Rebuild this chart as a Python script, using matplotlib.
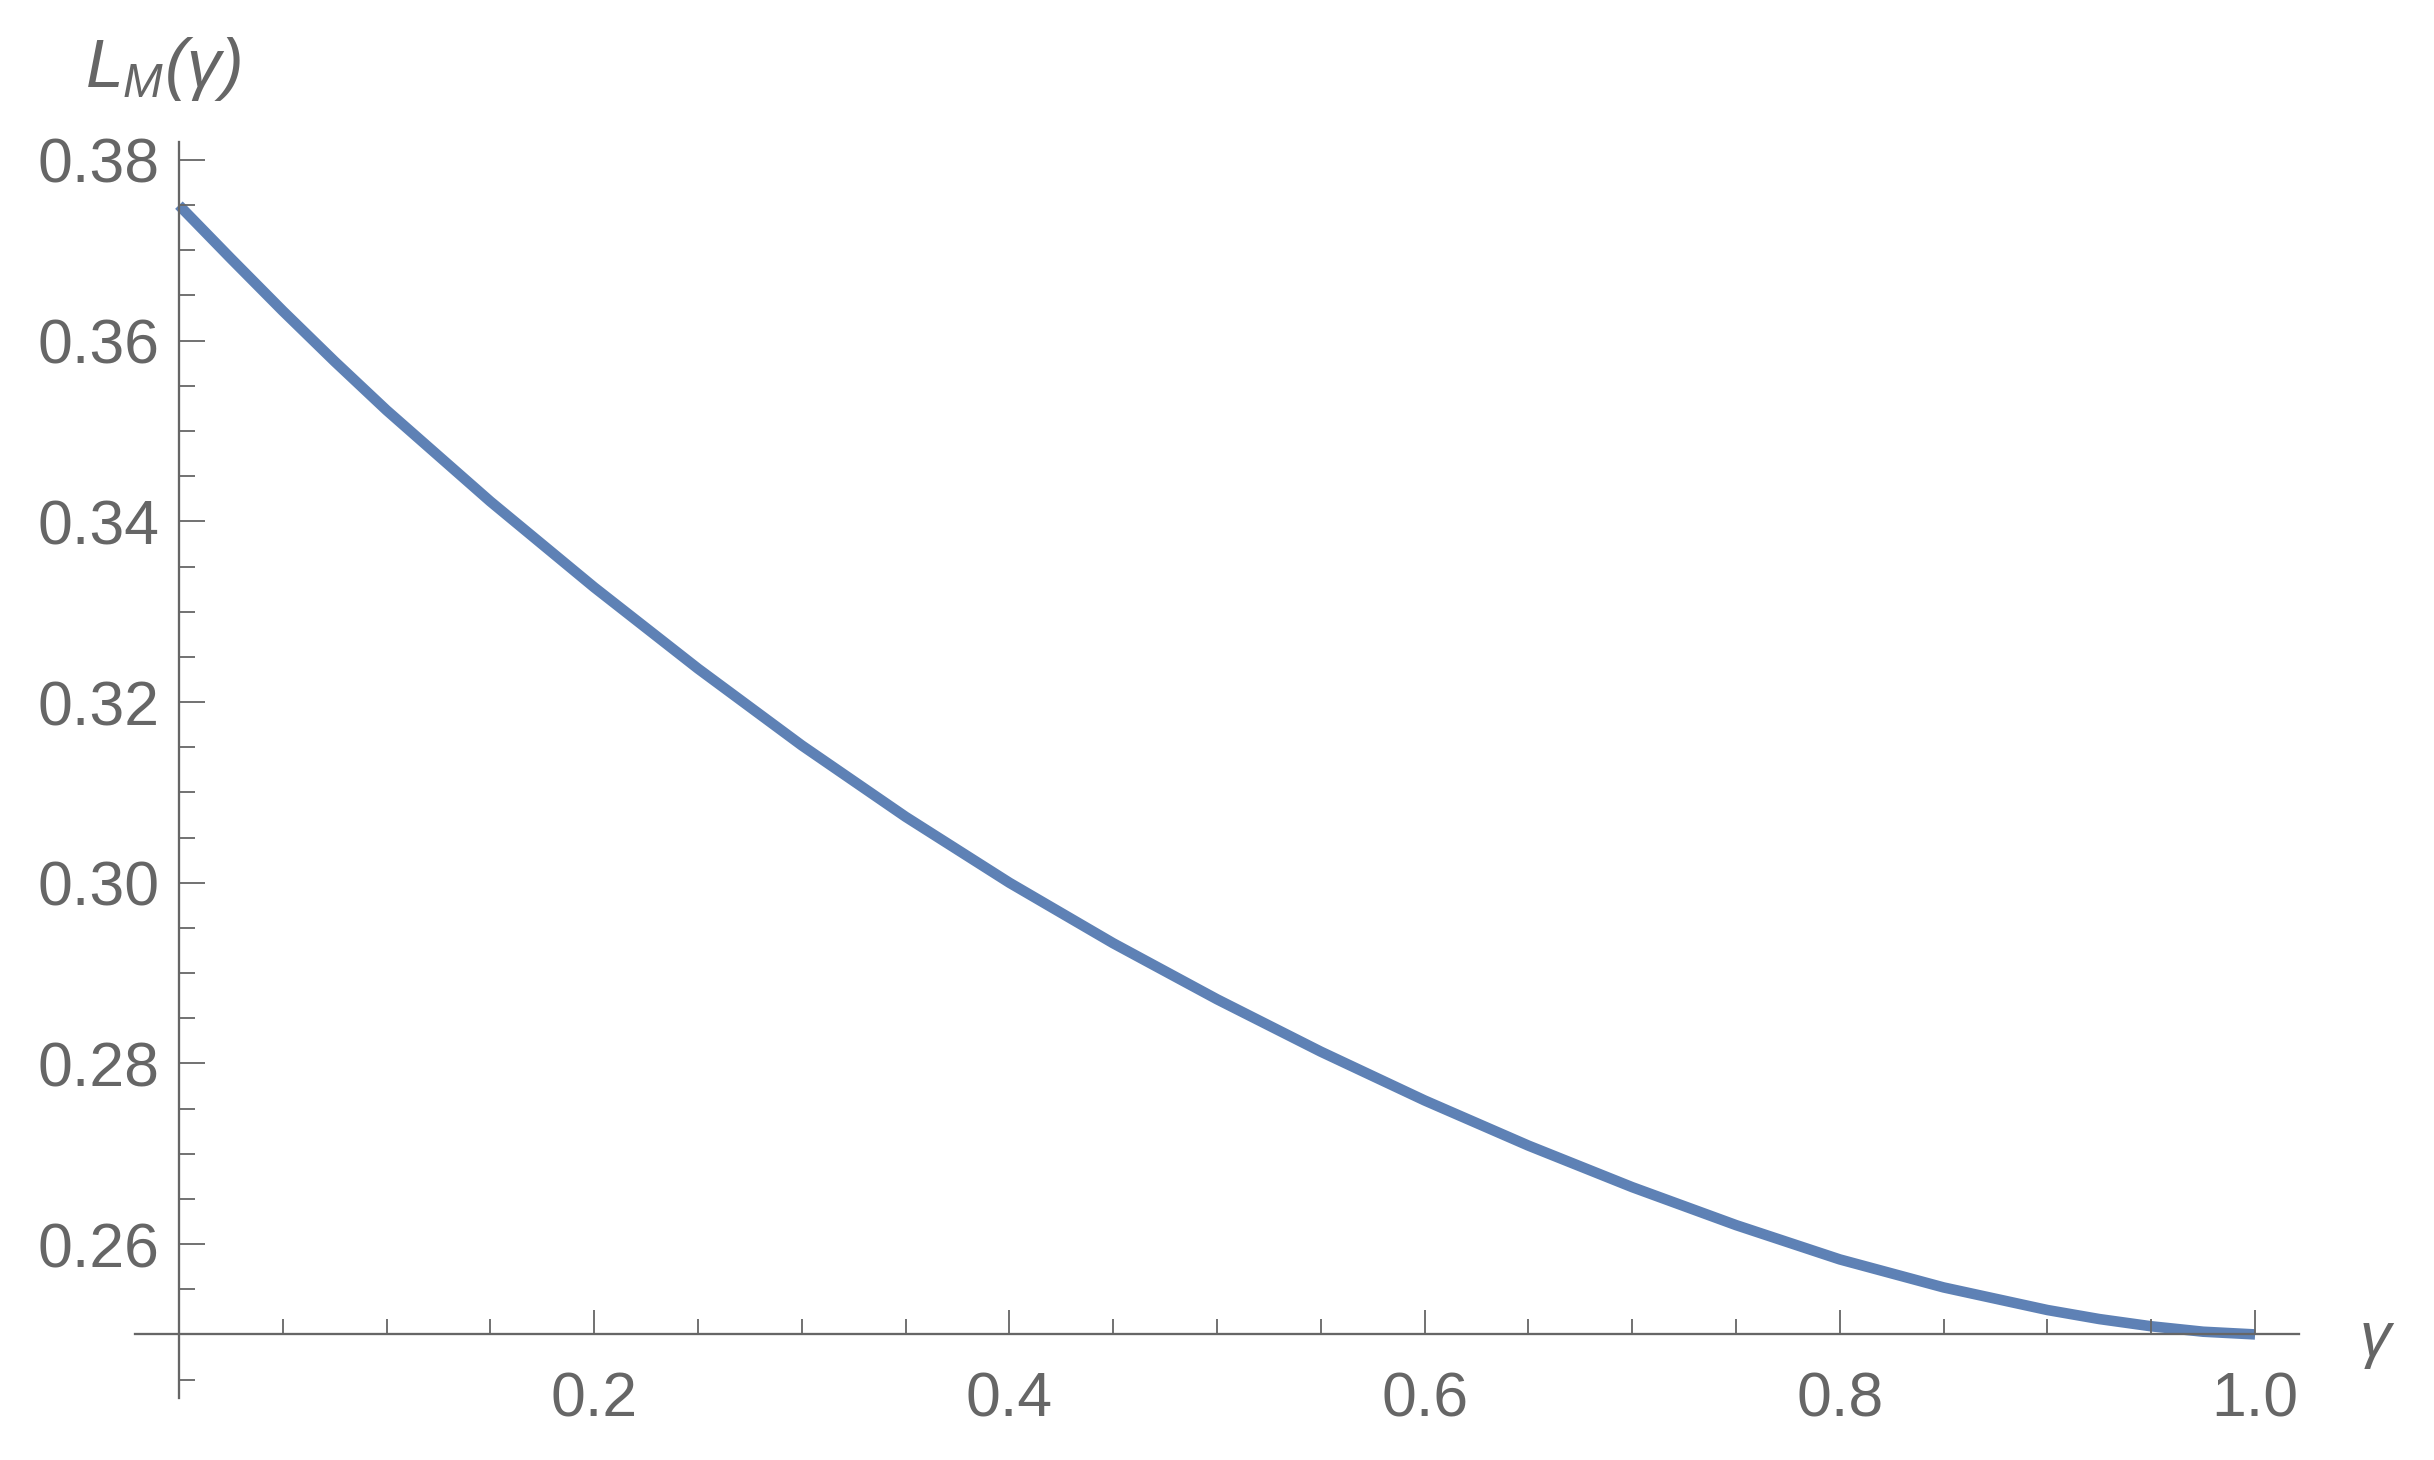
import matplotlib
matplotlib.use("Agg")
import matplotlib.pyplot as plt

# curve
gamma = [0.0, 0.025, 0.05, 0.075, 0.10, 0.15, 0.20, 0.25, 0.30, 0.35, 0.40,
         0.45, 0.50, 0.55, 0.60, 0.65, 0.70, 0.75, 0.80, 0.85, 0.90, 0.925,
         0.95, 0.975, 1.0]
L_M = [0.3750, 0.3691, 0.3633, 0.3577, 0.3523, 0.3422, 0.3327, 0.3237,
       0.3152, 0.3073, 0.3000, 0.2933, 0.2871, 0.2813, 0.2759, 0.2709,
       0.2663, 0.2621, 0.2583, 0.2552, 0.2527, 0.2517, 0.2509, 0.2503,
       0.2500]

x_major = [0.2, 0.4, 0.6, 0.8, 1.0]
x_major_labels = ["0.2", "0.4", "0.6", "0.8", "1.0"]
x_minor = [0.05, 0.10, 0.15, 0.25, 0.30, 0.35, 0.45, 0.50, 0.55, 0.65,
           0.70, 0.75, 0.85, 0.90, 0.95]
y_major = [0.26, 0.28, 0.30, 0.32, 0.34, 0.36, 0.38]
y_major_labels = ["0.26", "0.28", "0.30", "0.32", "0.34", "0.36", "0.38"]
y_minor = [0.245, 0.255, 0.265, 0.27, 0.275, 0.285, 0.29, 0.295, 0.305,
           0.31, 0.315, 0.325, 0.33, 0.335, 0.345, 0.35, 0.355, 0.365,
           0.37, 0.375]

gray = "#666666"
blue = "#5E81B5"

plt.rcParams['font.family'] = ['Liberation Sans', 'DejaVu Sans']
plt.rcParams['mathtext.fontset'] = 'custom'
plt.rcParams['mathtext.rm'] = 'Liberation Sans:italic'
plt.rcParams['mathtext.it'] = 'Liberation Sans:italic'

fig = plt.figure(figsize=(24.34, 14.60), dpi=100)
ax = fig.add_axes([0.0556, 0.0427, 0.8888, 0.8601])

ax.plot(gamma, L_M, color=blue, lw=7.6, solid_capstyle='butt',
        solid_joinstyle='round', zorder=1)

ax.set_xlim(-0.021, 1.021)
ax.set_ylim(0.243, 0.382)

# Mathematica-style crossing axes
ax.spines['left'].set_position(('data', 0))
ax.spines['bottom'].set_position(('data', 0.25))
ax.spines['top'].set_visible(False)
ax.spines['right'].set_visible(False)
for s in ['left', 'bottom']:
    ax.spines[s].set_color(gray)
    ax.spines[s].set_linewidth(1.65)
    ax.spines[s].set_zorder(3)

ax.set_xticks(x_major)
ax.set_xticklabels(x_major_labels)
ax.set_xticks(x_minor, minor=True)
ax.set_yticks(y_major)
ax.set_yticklabels(y_major_labels)
ax.set_yticks(y_minor, minor=True)

ax.tick_params(axis='x', which='major', direction='in', length=17.3,
               width=1.3, color=gray, labelcolor=gray, labelsize=45, pad=26)
ax.tick_params(axis='x', which='minor', direction='in', length=10.8,
               width=1.3, color=gray)
ax.tick_params(axis='y', which='major', direction='in', length=18.7,
               width=1.3, color=gray, labelcolor=gray, labelsize=45, pad=14)
ax.tick_params(axis='y', which='minor', direction='in', length=11.5,
               width=1.3, color=gray)
ax.xaxis.set_zorder(3)
ax.yaxis.set_zorder(3)

fig.text(0.035, 0.9404, r'$L_M(\gamma)$', color=gray, fontsize=49,
         ha='left', va='baseline')
fig.text(0.9690, 0.0712, r'$\gamma$', color=gray, fontsize=45,
         ha='left', va='baseline')

fig.savefig("out.png", dpi=100, facecolor='white')
